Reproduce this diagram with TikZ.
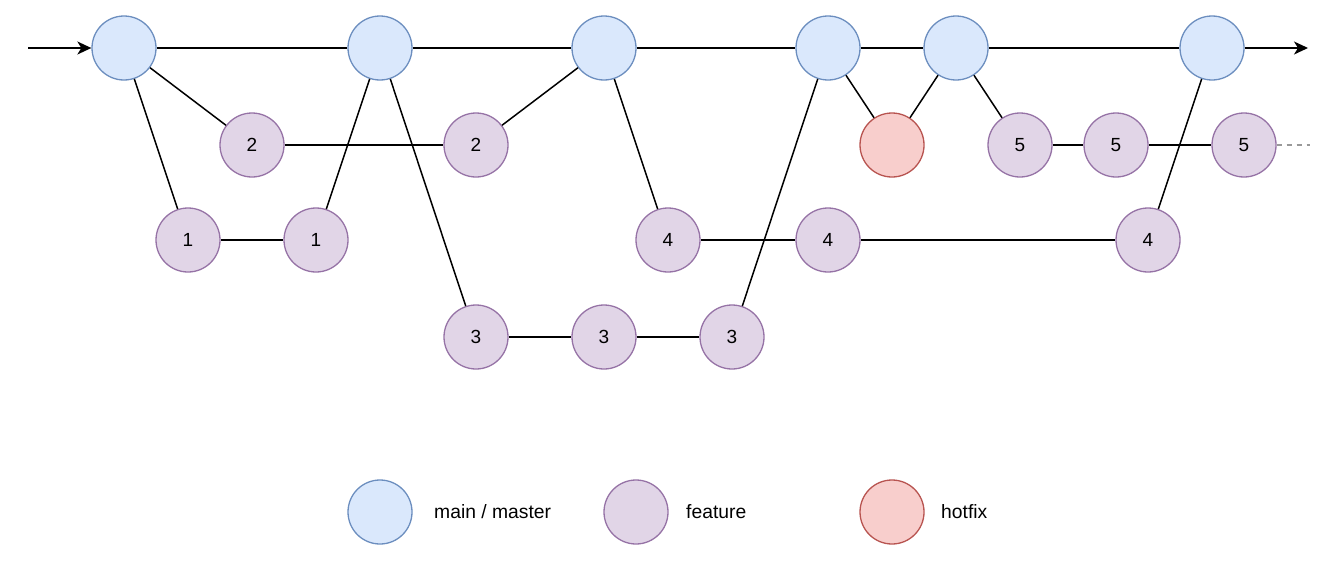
\documentclass[tikz,border=0pt]{standalone}
\usepackage{fontspec}
\setmainfont{Liberation Sans}
\usetikzlibrary{arrows.meta}
\definecolor{mainfill}{HTML}{DAE8FC}
\definecolor{maindraw}{HTML}{6C8EBF}
\definecolor{featfill}{HTML}{E1D5E7}
\definecolor{featdraw}{HTML}{9673A6}
\definecolor{hotfill}{HTML}{F8CECC}
\definecolor{hotdraw}{HTML}{B85450}
\begin{document}
\begin{tikzpicture}[x=1pt,y=-1pt,
  commit/.style={circle,minimum size=64pt,inner sep=0pt,line width=1.3pt,
    font=\fontsize{19}{22}\selectfont},
  mainc/.style={commit,fill=mainfill,draw=maindraw},
  featc/.style={commit,fill=featfill,draw=featdraw},
  hotc/.style={commit,fill=hotfill,draw=hotdraw},
  link/.style={line width=1.5pt,black},
  tip/.style={-{Stealth[length=14pt,width=13pt,inset=4pt]}},
  legtext/.style={anchor=west,inner sep=0pt,font=\fontsize{19.3}{22}\selectfont}]
\useasboundingbox (0,0) rectangle (1340,562);
\fill[white] (0,0) rectangle (1340,562);

% main branch
\node[mainc] (m1) at (124,48) {};
\node[mainc] (m2) at (380,48) {};
\node[mainc] (m3) at (604,48) {};
\node[mainc] (m4) at (828,48) {};
\node[mainc] (m5) at (956,48) {};
\node[mainc] (m6) at (1212,48) {};

% feature and hotfix commits
\node[featc] (f2a) at (252,145) {2};
\node[featc] (f2b) at (476,145) {2};
\node[hotc]  (h1)  at (892,145) {};
\node[featc] (f5a) at (1020,145) {5};
\node[featc] (f5b) at (1116,145) {5};
\node[featc] (f5c) at (1244,145) {5};

\node[featc] (f1a) at (188,240) {1};
\node[featc] (f1b) at (316,240) {1};
\node[featc] (f4a) at (668,240) {4};
\node[featc] (f4b) at (828,240) {4};
\node[featc] (f4c) at (1148,240) {4};

\node[featc] (f3a) at (476,337) {3};
\node[featc] (f3b) at (604,337) {3};
\node[featc] (f3c) at (732,337) {3};

\coordinate (start) at (28,48);
\coordinate (end) at (1308,48);
\coordinate (open) at (1310,145);

% connectors
\draw[link,tip] (start) -- (m1);
\draw[link] (m1) -- (m2) (m2) -- (m3) (m3) -- (m4) (m4) -- (m5) (m5) -- (m6);
\draw[link,tip] (m6) -- (end);

\draw[link] (m1) -- (f2a);
\draw[link] (f2a) -- (f2b);
\draw[link] (f2b) -- (m3);

\draw[link] (m1) -- (f1a);
\draw[link] (f1a) -- (f1b);
\draw[link] (f1b) -- (m2);

\draw[link] (m2) -- (f3a);
\draw[link] (f3a) -- (f3b);
\draw[link] (f3b) -- (f3c);
\draw[link] (f3c) -- (m4);

\draw[link] (m3) -- (f4a);
\draw[link] (f4a) -- (f4b);
\draw[link] (f4b) -- (f4c);
\draw[link] (f4c) -- (m6);

\draw[link] (m4) -- (h1);
\draw[link] (h1) -- (m5);

\draw[link] (m5) -- (f5a);
\draw[link] (f5a) -- (f5b);
\draw[link] (f5b) -- (f5c);
\draw[line width=1.3pt,gray!80,dash pattern=on 5pt off 5pt] (f5c) -- (open);

% legend
\node[mainc] (lm) at (380,512) {};
\node[legtext] (lmt) at (434,512) {main / master};
\node[featc] (lf) at (636,512) {};
\node[legtext] (lft) at (686,512) {feature};
\node[hotc] (lh) at (892,512) {};
\node[legtext] (lht) at (941,512) {hotfix};
\end{tikzpicture}
\end{document}
